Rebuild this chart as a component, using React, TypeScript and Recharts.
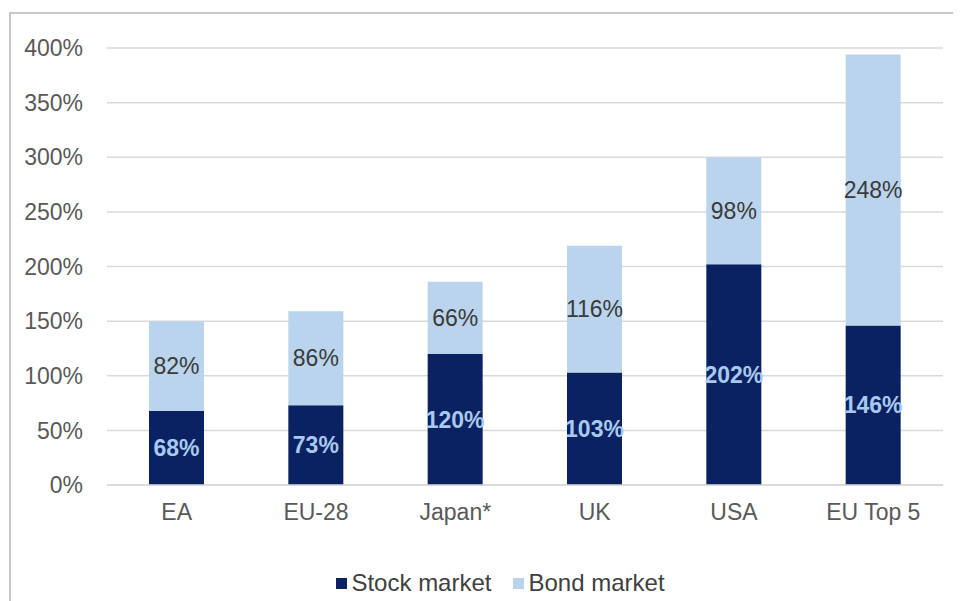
import { BarChart, Bar, XAxis, YAxis, CartesianGrid, Legend, LabelList } from "recharts";

const categories = ["EA", "EU-28", "Japan*", "UK", "USA", "EU Top 5"];
const stockMarket = [68, 73, 120, 103, 202, 146];
const bondMarket = [82, 86, 66, 116, 98, 248];
const yTicks = [0, 50, 100, 150, 200, 250, 300, 350, 400];

const STOCK_COLOR = "#0b2262";
const BOND_COLOR = "#b9d4ec";

const legendItems = [
  { label: "Stock market", color: STOCK_COLOR },
  { label: "Bond market", color: BOND_COLOR },
];

const data = categories.map((name, i) => ({
  name,
  stock: stockMarket[i],
  bond: bondMarket[i],
}));

const FONT = "'Liberation Sans', Arial, sans-serif";
const pct = (v: any) => `${v}%`;

function LegendContent() {
  return (
    <div
      style={{
        display: "flex",
        justifyContent: "center",
        gap: 22,
        fontSize: 24,
        color: "#404040",
        paddingLeft: 50,
      }}
    >
      {legendItems.map((it) => (
        <div key={it.label} style={{ display: "flex", alignItems: "center" }}>
          <span style={{ width: 11, height: 11, background: it.color, marginRight: 4, display: "inline-block" }} />
          <span>{it.label}</span>
        </div>
      ))}
    </div>
  );
}

export default function App() {
  return (
    <div style={{ position: "relative", width: 953, height: 593, fontFamily: FONT }}>
      <div
        style={{
          position: "absolute",
          left: 1,
          top: 4,
          right: 0,
          bottom: 0,
          borderTop: "2px solid #c8c8c8",
          borderLeft: "2px solid #c8c8c8",
        }}
      />
      <BarChart
        width={945}
        height={593}
        data={data}
        margin={{ top: 40, right: 10, left: 0, bottom: 0 }}
        style={{ position: "absolute", left: 0, top: 0 }}
      >
        <CartesianGrid vertical={false} stroke="#d9d9d9" strokeWidth={1.5} />
        <XAxis
          dataKey="name"
          height={88}
          tickLine={false}
          tickSize={0}
          tickMargin={19}
          axisLine={{ stroke: "#d9d9d9", strokeWidth: 1.5 }}
          tick={{ fill: "#595959", fontSize: 23, fontFamily: FONT }}
        />
        <YAxis
          width={99}
          domain={[0, 400]}
          ticks={yTicks}
          tickFormatter={pct}
          axisLine={false}
          tickLine={false}
          tickSize={0}
          tickMargin={24}
          tick={{ fill: "#595959", fontSize: 23, fontFamily: FONT }}
        />
        <Legend verticalAlign="bottom" wrapperStyle={{ bottom: 4 }} content={<LegendContent />} />
        <Bar dataKey="stock" name="Stock market" stackId="a" fill={STOCK_COLOR} barSize={55} isAnimationActive={false}>
          <LabelList
            dataKey="stock"
            position="center"
            formatter={pct}
            fill="#a9c9ee"
            fontSize={23}
            fontWeight="bold"
            fontFamily={FONT}
          />
        </Bar>
        <Bar dataKey="bond" name="Bond market" stackId="a" fill={BOND_COLOR} barSize={55} isAnimationActive={false}>
          <LabelList
            dataKey="bond"
            position="center"
            formatter={pct}
            fill="#3a3a3a"
            fontSize={23}
            fontFamily={FONT}
          />
        </Bar>
      </BarChart>
    </div>
  );
}
